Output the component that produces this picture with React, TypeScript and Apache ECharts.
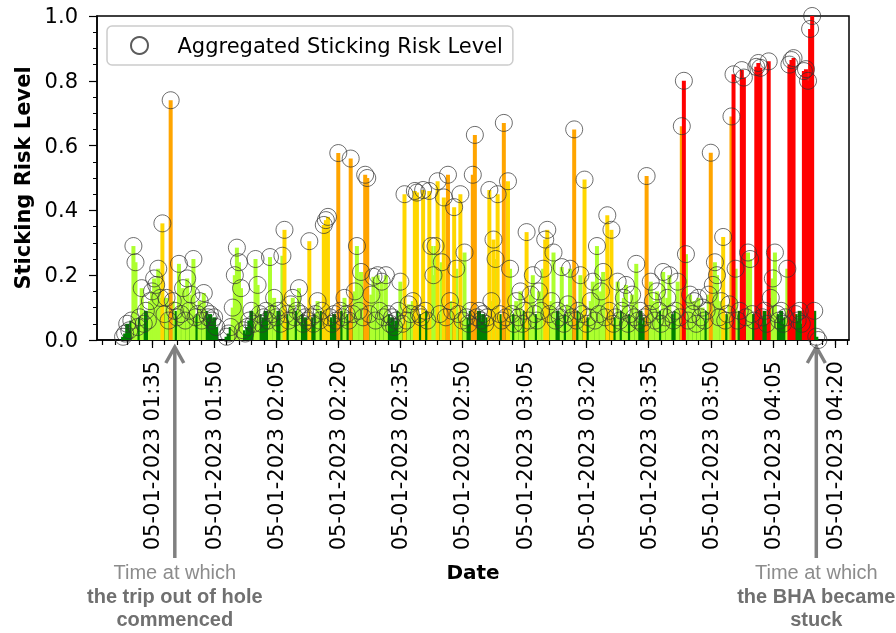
import React, { useEffect, useRef } from "react";
import * as echarts from "echarts";

// ---------------- data ----------------
const dateLabel = "05-01-2023";
const axisStart = "01:21:42";
const axisEnd = "04:23:24";
const sampleStart = "01:28:00";
const sampleStepSeconds = 30;
const legendName = "Aggregated Sticking Risk Level";

// aggregated sticking risk level, one value every 30 s from 01:28:00 (null = no sample)
const riskLevels: (number | null)[] = [
  0.01, 0.02, 0.05, 0.03, 0.06, 0.29, 0.24, 0.04, 0.07, 0.16,
  0.05, 0.09, 0.06, 0.12, 0.15, 0.19, 0.17, 0.22, 0.13, 0.36,
  0.08, 0.13, 0.06, 0.74, 0.12, 0.09, 0.07, 0.235, 0.08, 0.16,
  0.06, 0.19, 0.09, 0.14, 0.25, 0.07, 0.08, 0.12, 0.06, 0.145,
  0.09, 0.07, 0.08, 0.06, 0.07, 0.04, null, null, null, null,
  0.01, 0.02, 0.04, 0.1, 0.2, 0.285, 0.24, 0.16, 0.03, 0.02,
  0.04, 0.06, 0.09, 0.05, 0.25, 0.17, 0.08, 0.05, 0.07, 0.09,
  0.06, 0.256, 0.08, 0.13, 0.07, 0.09, 0.05, 0.26, 0.34, 0.08,
  0.06, 0.11, 0.13, 0.07, 0.09, 0.16, 0.08, 0.05, 0.07, 0.06,
  0.305, 0.07, 0.05, 0.08, 0.12, 0.06, 0.09, 0.355, 0.37, 0.38,
  0.07, 0.05, 0.08, 0.06, 0.577, 0.09, 0.07, 0.13, 0.08, 0.06,
  0.56, 0.08, 0.15, 0.29, 0.09, 0.21, 0.07, 0.51, 0.5, 0.08,
  0.14, 0.195, 0.06, 0.2, 0.09, 0.18, 0.07, 0.2, 0.08, 0.05,
  0.07, 0.04, 0.06, 0.09, 0.18, 0.05, 0.45, 0.06, 0.11, 0.08,
  0.12, 0.46, 0.455, 0.08, 0.07, 0.463, 0.09, 0.06, 0.46, 0.29,
  0.2, 0.29, 0.49, 0.08, 0.24, 0.44, 0.07, 0.51, 0.12, 0.09,
  0.41, 0.22, 0.08, 0.45, 0.06, 0.27, 0.07, 0.05, 0.09, 0.51,
  0.633, 0.07, 0.09, 0.06, 0.08, 0.05, 0.07, 0.463, 0.12, 0.31,
  0.25, 0.45, 0.08, 0.06, 0.67, 0.07, 0.49, 0.22, 0.08, 0.05,
  0.12, 0.07, 0.15, 0.05, 0.09, 0.333, 0.06, 0.14, 0.2, 0.08,
  0.06, 0.15, 0.09, 0.22, 0.31, 0.34, 0.08, 0.12, 0.27, 0.06,
  0.09, 0.07, 0.225, 0.05, 0.08, 0.11, 0.22, 0.07, 0.65, 0.06,
  0.09, 0.2, 0.08, 0.495, 0.05, 0.07, 0.12, 0.18, 0.06, 0.29,
  0.08, 0.15, 0.21, 0.07, 0.385, 0.09, 0.34, 0.05, 0.07, 0.18,
  0.06, 0.09, 0.13, 0.17, 0.05, 0.08, 0.14, 0.07, 0.235, 0.06,
  0.09, 0.05, 0.07, 0.506, 0.08, 0.18, 0.12, 0.06, 0.15, 0.09,
  0.05, 0.21, 0.07, 0.13, 0.2, 0.08, 0.06, 0.09, 0.18, 0.07,
  0.66, 0.8, 0.265, 0.06, 0.14, 0.08, 0.12, 0.05, 0.13, 0.07,
  0.1, 0.06, 0.09, 0.14, 0.578, 0.17, 0.24, 0.2, 0.07, 0.12,
  0.318, 0.06, 0.08, 0.11, 0.69, 0.82, 0.22, 0.06, 0.09, 0.833,
  0.81, 0.07, 0.27, 0.25, 0.08, 0.06, 0.843, 0.855, 0.84, 0.07,
  0.09, 0.05, 0.86, 0.13, 0.19, 0.27, 0.08, 0.06, 0.09, 0.05,
  0.07, 0.22, 0.85, 0.864, 0.87, 0.08, 0.06, 0.09, 0.05, 0.83,
  0.836, 0.8, 0.96, 1.0, 0.09, 0.01, 0.0,
];

const tickLabels = [
  "01:35", "01:50", "02:05", "02:20", "02:35", "02:50",
  "03:05", "03:20", "03:35", "03:50", "04:05", "04:20",
];
const minorTickStepMinutes = 3;

const yTicks = [0, 0.2, 0.4, 0.6, 0.8, 1.0];

// risk bands: upper bound (exclusive) -> stem colour
const riskBands = [
  { below: 0.1, color: "#008000" },
  { below: 0.3, color: "#adff2f" },
  { below: 0.5, color: "#ffd700" },
  { below: 0.8, color: "#ffa500" },
  { below: Infinity, color: "#ff0000" },
];

const annotations = [
  { time: "01:40:30", lines: ["Time at which", "the trip out of hole", "commenced"] },
  { time: "04:15:30", lines: ["Time at which", "the BHA became", "stuck"] },
];

// ---------------- helpers ----------------
const FONT = "DejaVu Sans, sans-serif";
const ANNOT_FONT = "Liberation Sans, Arial, sans-serif";

function toMin(hms: string): number {
  const p = hms.split(":").map(Number);
  return p[0] * 60 + p[1] + (p[2] || 0) / 60;
}
function fmt(m: number): string {
  const h = Math.floor(m / 60 + 1e-9);
  const mm = Math.round(m - h * 60);
  return `${dateLabel} ${String(h).padStart(2, "0")}:${String(mm).padStart(2, "0")}`;
}
function colorFor(v: number): string {
  for (const b of riskBands) if (v < b.below) return b.color;
  return riskBands[riskBands.length - 1].color;
}

const xMin = toMin(axisStart);
const xMax = toMin(axisEnd);
const t0 = toMin(sampleStart);
const points: [number, number][] = [];
riskLevels.forEach((v, i) => {
  if (v !== null) points.push([t0 + (i * sampleStepSeconds) / 60, v]);
});
const stemData = [...points].sort((a, b) => a[1] - b[1]);
const majorTicks = tickLabels.map(toMin);
const minorTicks: number[] = [];
{
  const base = majorTicks[0];
  let k = Math.ceil((xMin - base) / minorTickStepMinutes);
  while (base + k * minorTickStepMinutes <= xMax) {
    minorTicks.push(base + k * minorTickStepMinutes);
    k++;
  }
}

export default function App() {
  const ref = useRef<HTMLDivElement>(null);
  useEffect(() => {
    document.body.style.margin = "0";
    const chart = echarts.init(ref.current!, null, { renderer: "svg" });
    const tickLine = { color: "#000", width: 1.2 };
    chart.setOption({
      animation: false,
      grid: {
        left: 97,
        right: 47,
        top: 16,
        bottom: 293,
        show: true,
        borderColor: "#000",
        borderWidth: 1.5,
        backgroundColor: "transparent",
      },
      legend: {
        data: [legendName],
        left: 107,
        top: 26,
        padding: [9, 10, 9, 23],
        itemWidth: 30,
        itemHeight: 17,
        icon: "circle",
        borderColor: "#cccccc",
        borderWidth: 1.5,
        borderRadius: 5,
        backgroundColor: "rgba(255,255,255,0.8)",
        textStyle: {
          fontFamily: FONT,
          fontSize: 21,
          color: "#000",
          lineHeight: 20,
          padding: [0, 0, 0, 18],
        },
      },
      xAxis: [
        {
          type: "value",
          position: "bottom",
          min: xMin,
          max: xMax,
          axisLine: { show: true, onZero: false, lineStyle: { color: "#000", width: 1.5 } },
          axisTick: { show: true, customValues: majorTicks, length: 8, lineStyle: tickLine },
          axisLabel: {
            show: true,
            customValues: majorTicks,
            rotate: 90,
            margin: 21,
            fontFamily: FONT,
            fontSize: 21,
            color: "#000",
            formatter: (v: number) => fmt(v),
          },
          splitLine: { show: false },
        },
        {
          type: "value",
          position: "bottom",
          min: xMin,
          max: xMax,
          axisLine: { show: false, onZero: false },
          axisTick: { show: true, customValues: minorTicks, length: 5, lineStyle: tickLine },
          axisLabel: { show: false },
          splitLine: { show: false },
        },
      ],
      yAxis: {
        type: "value",
        min: yTicks[0],
        max: yTicks[yTicks.length - 1],
        interval: yTicks[1] - yTicks[0],
        name: "Sticking Risk Level",
        nameLocation: "middle",
        nameGap: 64,
        nameTextStyle: { fontFamily: FONT, fontSize: 21, fontWeight: "bold", color: "#000" },
        axisLine: { show: true, lineStyle: { color: "#000", width: 1.5 } },
        axisTick: { show: true, length: 8, lineStyle: tickLine },
        minorTick: { show: true, splitNumber: 4, length: 4, lineStyle: { color: "#000", width: 1 } },
        axisLabel: {
          fontFamily: FONT,
          fontSize: 21,
          color: "#000",
          margin: 19,
          formatter: (v: number) => v.toFixed(1),
        },
        splitLine: { show: false },
      },
      series: [
        {
          type: "custom",
          name: "stems",
          xAxisIndex: 0,
          yAxisIndex: 0,
          data: stemData,
          encode: { x: 0, y: 1 },
          clip: true,
          z: 2,
          silent: true,
          renderItem: (params: any, api: any) => {
            const x = api.value(0);
            const v = api.value(1);
            const top = api.coord([x, v]);
            const base = api.coord([x, 0]);
            return {
              type: "rect",
              shape: { x: top[0] - 2, y: top[1], width: 4, height: base[1] - top[1] },
              style: { fill: colorFor(v) },
            };
          },
        },
        {
          type: "scatter",
          name: legendName,
          xAxisIndex: 0,
          yAxisIndex: 0,
          data: points,
          symbol: "circle",
          symbolSize: 17,
          clip: true,
          z: 3,
          silent: true,
          itemStyle: { color: "rgba(0,0,0,0)", borderColor: "#333", borderWidth: 0.9 },
        },
      ],
    });

    const gray = "#808080";
    const graphics: any[] = [
      {
        type: "text",
        x: 473,
        y: 572,
        style: {
          text: "Date",
          font: `bold 20px ${FONT}`,
          fill: "#000",
          textAlign: "center",
          textVerticalAlign: "middle",
        },
      },
    ];
    annotations.forEach((a) => {
      const px = chart.convertToPixel({ xAxisIndex: 0 }, toMin(a.time)) as number;
      graphics.push({
        type: "line",
        shape: { x1: px, y1: 348, x2: px, y2: 558 },
        style: { stroke: gray, lineWidth: 3.5 },
      });
      graphics.push({
        type: "polyline",
        shape: { points: [[px - 9, 363], [px, 347], [px + 9, 363]] },
        style: { stroke: gray, lineWidth: 3.5, fill: null },
      });
      const ys = [572, 596, 619];
      a.lines.forEach((line, k) => {
        graphics.push({
          type: "text",
          x: px,
          y: ys[k],
          style: {
            text: line,
            font: `${k === 0 ? "normal" : "bold"} 20px ${ANNOT_FONT}`,
            fill: k === 0 ? "#8c8c8c" : "#707070",
            textAlign: "center",
            textVerticalAlign: "middle",
          },
        });
      });
    });
    chart.setOption({ graphic: graphics });

    return () => chart.dispose();
  }, []);
  return (
    <div
      ref={ref}
      style={{ position: "fixed", left: 0, top: 0, width: 896, height: 633 }}
    />
  );
}
